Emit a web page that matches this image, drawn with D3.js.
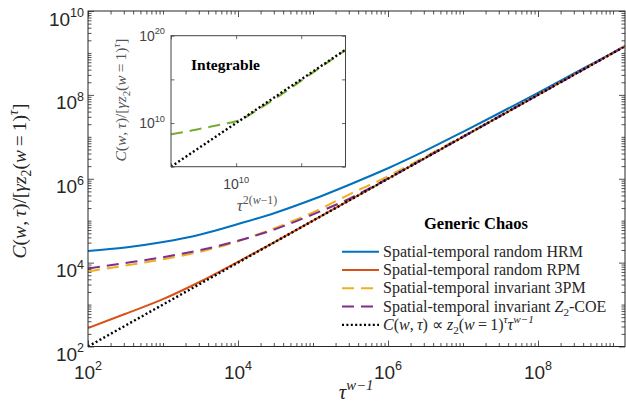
<!DOCTYPE html>
<html>
<head>
<meta charset="utf-8">
<script src="https://cdn.jsdelivr.net/npm/d3@7"></script>
<style>
  body { margin: 0; background: #fff; }
  svg { display: block; }
</style>
</head>
<body>
<div id="chart"></div>
<script>
// values, stored as log10 exponents
const tauExp = [2, 2.5, 3, 3.5, 4, 4.5, 5, 5.5, 6, 6.5, 7, 7.5, 8, 8.5, 9, 9.16];
const hrmExp = [4.28, 4.36, 4.49, 4.67, 4.92, 5.19, 5.51, 5.87, 6.25, 6.67, 7.12, 7.58, 8.05, 8.53, 9.01, 9.17];
const rpmExp = [2.44, 2.78, 3.13, 3.55, 4.02, 4.5, 5, 5.5, 6, 6.5, 7, 7.5, 8, 8.5, 9, 9.16];
const pm3Exp = [3.79, 3.93, 4.08, 4.26, 4.51, 4.83, 5.2, 5.64, 6.06, 6.53, 7.015, 7.51, 8.005, 8.5, 9, 9.16];
const coeExp = [3.86, 3.99, 4.13, 4.3, 4.52, 4.8, 5.15, 5.54, 6.01, 6.5, 7, 7.5, 8, 8.5, 9, 9.16];
const refExp = [2, 2.5, 3, 3.5, 4, 4.5, 5, 5.5, 6, 6.5, 7, 7.5, 8, 8.5, 9, 9.16];

// inset (integrable case)
const insetXExp = [5, 6, 7, 8, 9, 10, 10.5, 11, 12, 13, 14, 15, 16, 17, 18.4];
const insetGreenExp = [8.7, 8.97, 9.27, 9.57, 9.88, 10.2, 10.45, 10.9, 11.85, 12.8, 13.8, 14.85, 15.88, 16.92, 18.35];
const insetRefExp = [5, 6, 7, 8, 9, 10, 10.5, 11, 12, 13, 14, 15, 16, 17, 18.4];

const xLabelExps = [2, 4, 6, 8];
const yLabelExps = [2, 4, 6, 8, 10];
const insetXTickExps = [5, 10, 15];
const insetXLabelExps = [10];
const insetYTickExps = [5, 10, 15, 20];
const insetYLabelExps = [10, 20];

const thin = "\u2009";
const legendNames = [
  [["Spatial-temporal random HRM", "rm"]],
  [["Spatial-temporal random RPM", "rm"]],
  [["Spatial-temporal invariant 3PM", "rm"]],
  [["Spatial-temporal invariant ", "rm"], ["Z", "it"], ["2", "sub"], ["-COE", "rm"]],
  [["C", "it"], ["(", "rm"], ["w", "it"], [","+thin, "rm"], ["τ", "it"], [") ∝ ", "rm"], ["z", "it"], ["2", "sub"],
   ["(", "rm"], ["w", "it"], [thin+"="+thin+"1)", "rm"], ["τ", "sup-it"], ["τ", "it"], ["w−1", "sup-it"]]
];
const yTitle = [["C", "it"], ["(", "rm"], ["w", "it"], [","+thin, "rm"], ["τ", "it"], [")/[", "rm"],
  ["γz", "it"], ["2", "sub"], ["(", "rm"], ["w", "it"], [thin+"="+thin+"1)", "rm"], ["τ", "sup-it"], ["]", "rm"]];

const W = 626, H = 416;
const svg = d3.select("#chart").append("svg").attr("width", W).attr("height", H);

const axisColor = "#262626";
const tickFont = "'Liberation Sans', Arial, Helvetica, sans-serif";
const mathFont = "'Liberation Serif', 'Times New Roman', serif";

// writes a small math-like string with italics, subscripts and superscripts
function mathText(sel, parts, size) {
  let shift = 0;
  parts.forEach(([s, st]) => {
    const sub = st.includes("sub"), sup = st.includes("sup");
    const target = sub ? 0.28 * size : sup ? -0.42 * size : 0;
    const t = sel.append("tspan").text(s).attr("dy", target - shift);
    shift = target;
    if (sub || sup) t.attr("font-size", size * 0.7);
    if (st.includes("it")) t.attr("font-style", "italic");
  });
}

function powLabel(sel, exp, size) {
  sel.append("tspan").text("10");
  sel.append("tspan").text(exp).attr("font-size", size * 0.66).attr("dy", -size * 0.45);
}

// ---------- main axes ----------
const plot = { left: 88, right: 625, top: 11, bottom: 346.5 };
const x = d3.scaleLog().domain([1e2, Math.pow(10, 9.16)]).range([plot.left, plot.right]);
const y = d3.scaleLog().domain([1e2, 1e10]).range([plot.bottom, plot.top]);

function logTicks(lo, hi, domain) {
  const out = [];
  for (let d = lo; d <= hi; d++) {
    for (let k = 1; k <= 9; k++) {
      const v = k * Math.pow(10, d);
      if (v < domain[0] * 0.999 || v > domain[1] * 1.001) continue;
      out.push(v);
    }
  }
  return out;
}

const xMinor = logTicks(2, 9, x.domain()).filter(v => !xLabelExps.some(e => Math.abs(v - Math.pow(10, e)) < 1e-6 * v));
const yMinor = logTicks(2, 9, y.domain()).filter(v => !yLabelExps.some(e => Math.abs(v - Math.pow(10, e)) < 1e-6 * v));
const xMajor = xLabelExps.map(e => Math.pow(10, e));
const yMajor = yLabelExps.map(e => Math.pow(10, e));

function drawTicks(g, axisFn, scale, values, len, translate, color) {
  g.append("g")
    .attr("transform", translate)
    .call(axisFn(scale).tickValues(values).tickSizeInner(len).tickSizeOuter(0).tickFormat(""))
    .call(a => a.select(".domain").remove())
    .call(a => a.selectAll("line").attr("stroke", color || axisColor).attr("stroke-width", 0.8));
}

const axesG = svg.append("g");
// bottom / top
drawTicks(axesG, d3.axisBottom, x, xMajor, -6, `translate(0,${plot.bottom})`);
drawTicks(axesG, d3.axisBottom, x, xMinor, -3.5, `translate(0,${plot.bottom})`);
drawTicks(axesG, d3.axisTop, x, xMajor, -6, `translate(0,${plot.top})`);
drawTicks(axesG, d3.axisTop, x, xMinor, -3.5, `translate(0,${plot.top})`);
// left / right
drawTicks(axesG, d3.axisLeft, y, yMajor, -6, `translate(${plot.left},0)`);
drawTicks(axesG, d3.axisLeft, y, yMinor, -3.5, `translate(${plot.left},0)`);
drawTicks(axesG, d3.axisRight, y, yMajor, -6, `translate(${plot.right},0)`);
drawTicks(axesG, d3.axisRight, y, yMinor, -3.5, `translate(${plot.right},0)`);

svg.append("defs").append("clipPath").attr("id", "clipMain")
  .append("rect").attr("x", plot.left).attr("y", plot.top)
  .attr("width", plot.right - plot.left).attr("height", plot.bottom - plot.top);

const series = [
  { name: "HRM", exps: hrmExp, color: "#0072BD", dash: null },
  { name: "RPM", exps: rpmExp, color: "#D95319", dash: null },
  { name: "3PM", exps: pm3Exp, color: "#EDB120", dash: "12,7" },
  { name: "COE", exps: coeExp, color: "#7E2F8E", dash: "12,7" },
  { name: "ref", exps: refExp, color: "#000000", dash: "2,2.4" }
];

const line = d3.line()
  .x(d => x(Math.pow(10, d[0])))
  .y(d => y(Math.pow(10, d[1])))
  .curve(d3.curveMonotoneX);

const curves = svg.append("g").attr("clip-path", "url(#clipMain)");
series.forEach(s => {
  curves.append("path")
    .datum(tauExp.map((t, i) => [t, s.exps[i]]))
    .attr("d", line)
    .attr("fill", "none")
    .attr("stroke", s.color)
    .attr("stroke-width", s.name === "ref" ? 2.4 : 2)
    .attr("stroke-dasharray", s.dash);
});

svg.append("rect")
  .attr("x", plot.left).attr("y", plot.top)
  .attr("width", plot.right - plot.left).attr("height", plot.bottom - plot.top)
  .attr("fill", "none").attr("stroke", axisColor).attr("stroke-width", 1);

// tick labels
xLabelExps.forEach(e => {
  svg.append("text")
    .attr("x", x(Math.pow(10, e))).attr("y", 379)
    .attr("text-anchor", "middle")
    .attr("font-family", tickFont).attr("font-size", 19).attr("fill", axisColor)
    .call(t => powLabel(t, e, 19));
});
yLabelExps.forEach(e => {
  svg.append("text")
    .attr("x", 84).attr("y", y(Math.pow(10, e)) + 14.5)
    .attr("text-anchor", "end")
    .attr("font-family", tickFont).attr("font-size", 19).attr("fill", axisColor)
    .call(t => powLabel(t, e, 19));
});

// axis titles
svg.append("text")
  .attr("x", 356).attr("y", 399)
  .attr("text-anchor", "middle")
  .attr("font-family", mathFont).attr("font-size", 21).attr("fill", axisColor)
  .call(t => mathText(t, [["τ", "it"], ["w−1", "sup-it"]], 21));

svg.append("text")
  .attr("transform", "translate(26,181) rotate(-90)")
  .attr("text-anchor", "middle")
  .attr("font-family", mathFont).attr("font-size", 19.5).attr("fill", axisColor)
  .call(t => mathText(t, yTitle, 19.5));

// ---------- legend ----------
svg.append("text")
  .attr("x", 476).attr("y", 229)
  .attr("text-anchor", "middle")
  .attr("font-family", mathFont).attr("font-size", 16.5).attr("font-weight", "bold")
  .text("Generic Chaos");

legendNames.forEach((parts, i) => {
  const cy = 251.7 + i * 18.3;
  const s = series[i];
  svg.append("line")
    .attr("x1", 342).attr("x2", 379).attr("y1", cy).attr("y2", cy)
    .attr("stroke", s.color)
    .attr("stroke-width", s.name === "ref" ? 2.4 : 2)
    .attr("stroke-dasharray", s.dash);
  svg.append("text")
    .attr("x", 383).attr("y", cy + 5)
    .attr("font-family", mathFont).attr("font-size", 16).attr("fill", axisColor)
    .call(t => mathText(t, parts, 16));
});

// ---------- inset ----------
const ins = { left: 171, right: 345.5, top: 35.7, bottom: 166.7 };
const xi = d3.scaleLog().domain([1e5, Math.pow(10, 18.4)]).range([ins.left, ins.right]);
const yi = d3.scaleLog().domain([1e5, 1e20]).range([ins.bottom, ins.top]);
const insetColor = "#444";

svg.append("rect")
  .attr("x", ins.left).attr("y", ins.top)
  .attr("width", ins.right - ins.left).attr("height", ins.bottom - ins.top)
  .attr("fill", "#fff");

svg.select("defs").append("clipPath").attr("id", "clipInset")
  .append("rect").attr("x", ins.left).attr("y", ins.top)
  .attr("width", ins.right - ins.left).attr("height", ins.bottom - ins.top);

const insetG = svg.append("g");
const xiTicks = insetXTickExps.map(e => Math.pow(10, e));
const yiTicks = insetYTickExps.map(e => Math.pow(10, e));
drawTicks(insetG, d3.axisBottom, xi, xiTicks, -3.5, `translate(0,${ins.bottom})`, insetColor);
drawTicks(insetG, d3.axisTop, xi, xiTicks, -3.5, `translate(0,${ins.top})`, insetColor);
drawTicks(insetG, d3.axisLeft, yi, yiTicks, -3.5, `translate(${ins.left},0)`, insetColor);
drawTicks(insetG, d3.axisRight, yi, yiTicks, -3.5, `translate(${ins.right},0)`, insetColor);

const lineI = d3.line()
  .x(d => xi(Math.pow(10, d[0])))
  .y(d => yi(Math.pow(10, d[1])))
  .curve(d3.curveMonotoneX);

const insetCurves = svg.append("g").attr("clip-path", "url(#clipInset)");
insetCurves.append("path")
  .datum(insetXExp.map((t, i) => [t, insetGreenExp[i]]))
  .attr("d", lineI)
  .attr("fill", "none").attr("stroke", "#77AC30").attr("stroke-width", 2)
  .attr("stroke-dasharray", "12,7");
insetCurves.append("path")
  .datum(insetXExp.map((t, i) => [t, insetRefExp[i]]))
  .attr("d", lineI)
  .attr("fill", "none").attr("stroke", "#000").attr("stroke-width", 2.4)
  .attr("stroke-dasharray", "2,2.4");

svg.append("rect")
  .attr("x", ins.left).attr("y", ins.top)
  .attr("width", ins.right - ins.left).attr("height", ins.bottom - ins.top)
  .attr("fill", "none").attr("stroke", insetColor).attr("stroke-width", 1);

svg.append("text")
  .attr("x", 191).attr("y", 70)
  .attr("font-family", mathFont).attr("font-size", 15.5).attr("font-weight", "bold")
  .text("Integrable");

insetXLabelExps.forEach(e => {
  svg.append("text")
    .attr("x", xi(Math.pow(10, e))).attr("y", 189)
    .attr("text-anchor", "middle")
    .attr("font-family", tickFont).attr("font-size", 14).attr("fill", insetColor)
    .call(t => powLabel(t, e, 14));
});
insetYLabelExps.forEach(e => {
  svg.append("text")
    .attr("x", 165).attr("y", yi(Math.pow(10, e)) + 5)
    .attr("text-anchor", "end")
    .attr("font-family", tickFont).attr("font-size", 14).attr("fill", insetColor)
    .call(t => powLabel(t, e, 14));
});

svg.append("text")
  .attr("x", 257).attr("y", 211)
  .attr("text-anchor", "middle")
  .attr("font-family", mathFont).attr("font-size", 17).attr("fill", "#555")
  .call(t => mathText(t, [["τ", "it"], ["2(", "sup"], ["w", "sup-it"], ["−1)", "sup"]], 17));

svg.append("text")
  .attr("transform", "translate(126,100) rotate(-90)")
  .attr("text-anchor", "middle")
  .attr("font-family", mathFont).attr("font-size", 15.5).attr("fill", "#555")
  .call(t => mathText(t, yTitle, 15.5));
</script>
</body>
</html>
